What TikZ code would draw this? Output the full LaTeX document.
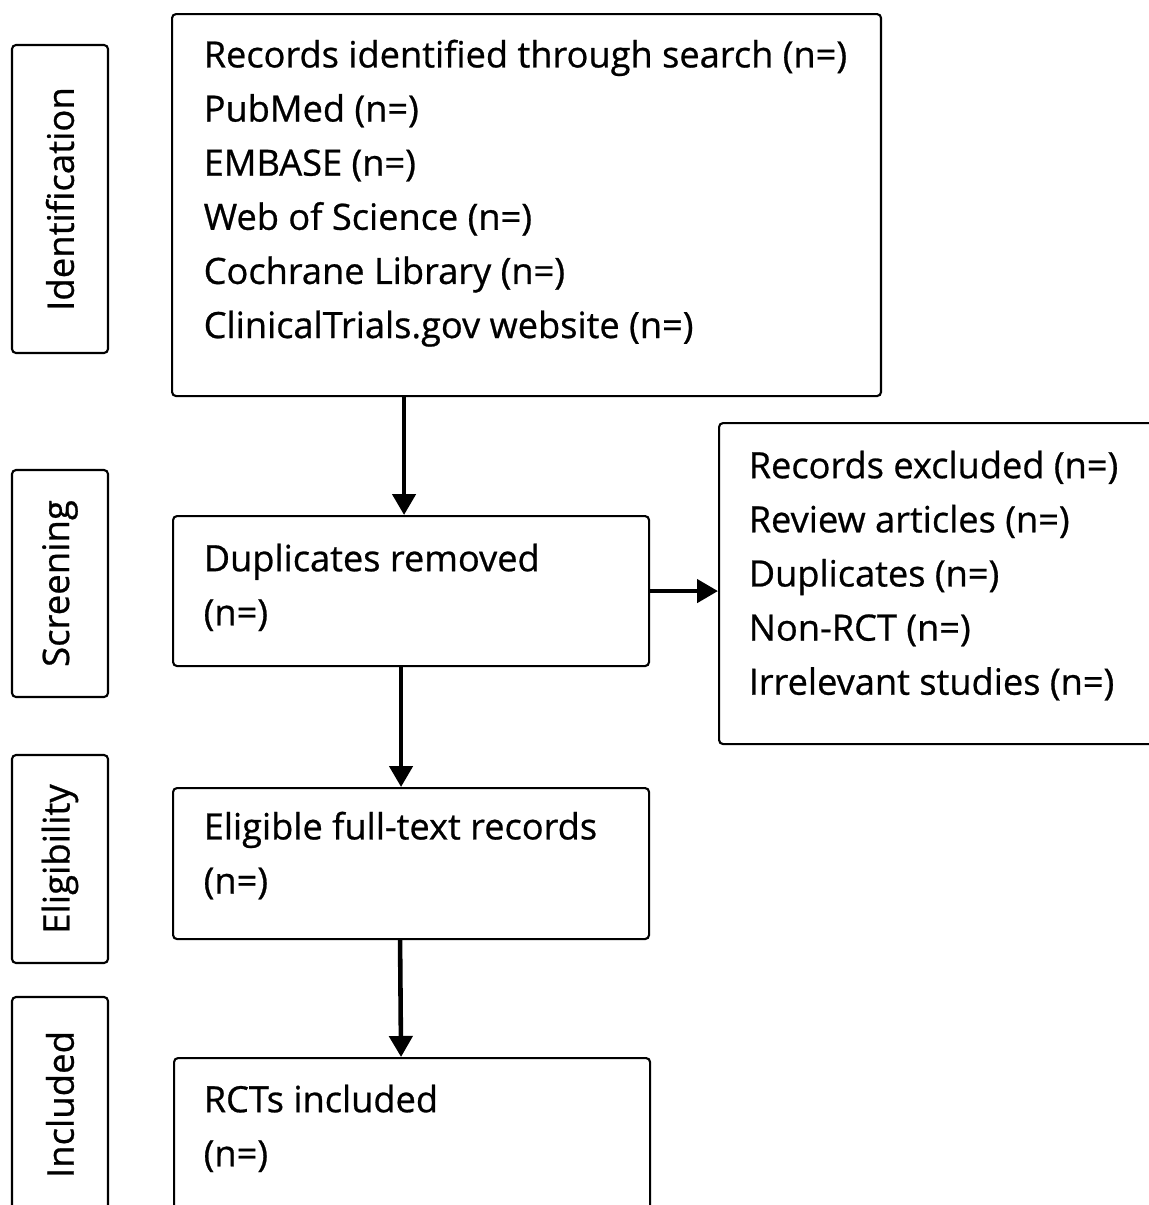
\documentclass[tikz,border=0pt]{standalone}
\usepackage{fontspec}
\setmainfont{Open Sans}[FakeBold=0.7]
\usetikzlibrary{positioning,arrows.meta}

\begin{document}
\begin{tikzpicture}[x=0.1mm,y=-0.1mm,
        box/.style={draw,line width=0.6pt,rounded corners=0.4mm,anchor=north west,inner sep=0pt},
        txt/.style={align=left,inner sep=0pt,anchor=north west,font=\fontsize{10.3}{15.4}\selectfont},
        stage/.style={draw,line width=0.6pt,rounded corners=0.4mm,rotate=90,inner sep=0pt,
        minimum height=9.6mm,font=\fontsize{10.4}{11}\selectfont},
        flow/.style={line width=1.3pt,-{Triangle[length=2.1mm,width=2.3mm]}}]
        \clip (0,0) rectangle (1149,1205);

        \foreach \i/\ya/\yb/\stage in {1/45/353/Identification, 2/470/697/Screening,
            3/755/963/Eligibility, 4/997/1212/Included}{
            \node[stage,minimum width={(\yb-\ya)*0.1mm}] (S-\i) at (60,{(\ya+\yb)/2}) {\stage};
        }

        \node[box,minimum width=70.9mm,minimum height=38.2mm] (rec) at (171,13) {};
        \node[txt,below right=2.6mm and 3.2mm of rec.north west] (rec-txt)
            {Records identified through search (n=)\\PubMed (n=)\\EMBASE (n=)\\
            Web of Science (n=)\\Cochrane Library (n=)\\ClinicalTrials.gov website (n=)};

        \node[box,minimum width=47.6mm,minimum height=15mm] (dup) at (172,515) {};
        \node[txt,below right=2.8mm and 3.1mm of dup.north west] (dup-txt)
            {Duplicates removed\\(n=)};

        \node[box,minimum width=47.6mm,minimum height=15.1mm] (elig) at (172,787) {};
        \node[txt,below right=2.4mm and 3.1mm of elig.north west] (elig-txt)
            {Eligible full-text records\\(n=)};

        \node[box,minimum width=47.6mm,minimum height=16mm] (rct) at (173,1057) {};
        \node[txt,below right=2.7mm and 3mm of rct.north west] (rct-txt)
            {RCTs included\\(n=)};

        \node[box,minimum width=44.7mm,minimum height=32.1mm] (excl) at (718,422) {};
        \node[txt,below right=2.8mm and 3mm of excl.north west] (excl-txt)
            {Records excluded (n=)\\Review articles (n=)\\Duplicates (n=)\\
            Non-RCT (n=)\\Irrelevant studies (n=)};

        \draw[flow] ([xshift=-0.7mm]dup.north |- rec.south) -- ([xshift=-0.7mm]dup.north);
        \draw[flow] ([xshift=-1mm]dup.south) -- ([xshift=-1mm]elig.north);
        \draw[flow] ([xshift=-1.1mm]elig.south) -- ([xshift=-1.1mm]rct.north);
        \draw[flow] (dup.east) -- (excl.west |- dup.east);
\end{tikzpicture}
\end{document}
